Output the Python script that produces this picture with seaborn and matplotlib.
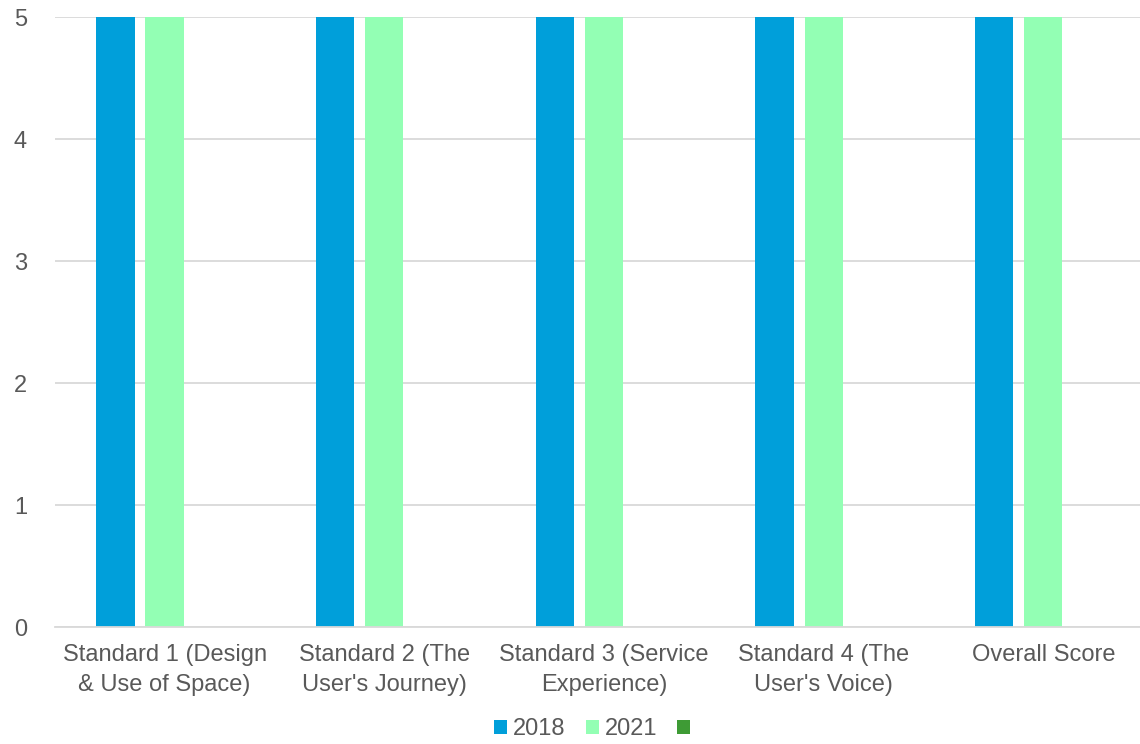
import matplotlib
matplotlib.use("Agg")
import matplotlib.pyplot as plt
import seaborn as sns
import pandas as pd
from matplotlib.patches import Patch

categories = ["Standard 1 (Design\n& Use of Space)", "Standard 2 (The\nUser's Journey)",
              "Standard 3 (Service\nExperience)", "Standard 4 (The\nUser's Voice)", "Overall Score"]
series_names = ["2018", "2021", " "]
values_2018 = [5, 5, 5, 5, 5]
values_2021 = [5, 5, 5, 5, 5]
values_3 = [0, 0, 0, 0, 0]
colors = ["#009FDA", "#93FFB4", "#3E9B35"]
yticks = [0, 1, 2, 3, 4, 5]

rows = []
for name, vals in zip(series_names, [values_2018, values_2021, values_3]):
    for c, v in zip(categories, vals):
        rows.append({"cat": c, "series": name, "value": v})
df = pd.DataFrame(rows)

sns.set_theme(style="white")
plt.rcParams['font.family'] = ['Liberation Sans', 'DejaVu Sans']

fig = plt.figure(figsize=(11.4, 7.44), dpi=100)
ax = fig.add_axes([0.048, 0.157, 0.952, 0.82])

sns.barplot(data=df, x="cat", y="value", hue="series", order=categories,
            hue_order=series_names, palette=colors, width=0.67, gap=0.22,
            saturation=1, linewidth=0, errorbar=None, ax=ax, legend=False)

ax.set_ylim(0, 5)
ax.set_xlim(-0.5, 4.44)
ax.set_yticks(yticks)
ax.set_yticklabels([str(t) for t in yticks])
ax.yaxis.grid(True, color="#D9D9D9", linewidth=1.3)
ax.set_axisbelow(True)
for s in ["top", "right", "left"]:
    ax.spines[s].set_visible(False)
ax.spines["bottom"].set_color("#D9D9D9")
ax.spines["bottom"].set_linewidth(1.3)
ax.set_xlabel("")
ax.set_ylabel("")
ax.tick_params(axis="y", length=0, pad=20, labelsize=17, labelcolor="#595959")
ax.tick_params(axis="x", length=0, pad=12, labelsize=17, labelcolor="#595959")
for lab in ax.get_xticklabels():
    lab.set_linespacing(1.5)

handles = [Patch(facecolor=c, edgecolor="none") for c in colors]
fig.legend(handles, series_names, loc="lower center", bbox_to_anchor=(0.525, -0.02),
           ncol=3, frameon=False, fontsize=17, labelcolor="#595959",
           handlelength=0.55, handleheight=0.55, handletextpad=0.25, columnspacing=0.85,
           borderpad=0.3)

fig.savefig("out.png", dpi=100)
